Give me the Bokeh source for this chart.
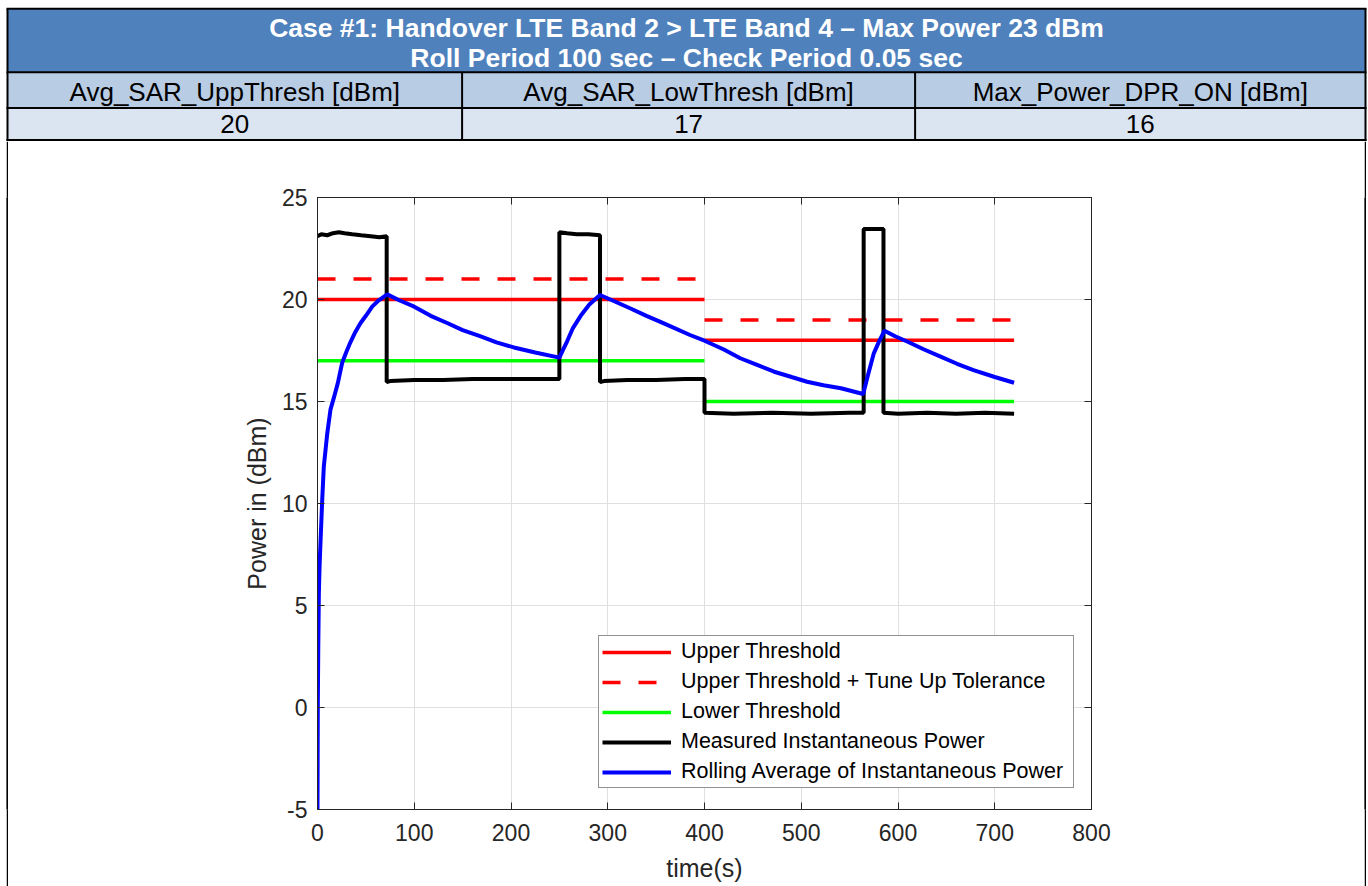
from bokeh.plotting import figure
from bokeh.models import (Range1d, FixedTicker, LinearAxis, Legend, LegendItem,
                          ColumnDataSource, Spacer)
from bokeh.layouts import column, row
from bokeh.embed import file_html
from bokeh.resources import INLINE
from bokeh.core.properties import value

# ---------------- table data ----------------
title_lines = ["Case #1: Handover LTE Band 2 > LTE Band 4 \u2013 Max Power 23 dBm",
               "Roll Period 100 sec \u2013 Check Period 0.05 sec"]
param_names = ["Avg_SAR_UppThresh [dBm]", "Avg_SAR_LowThresh [dBm]", "Max_Power_DPR_ON [dBm]"]
param_values = ["20", "17", "16"]

# ---------------- chart data ----------------
seg_start = [0, 400]
seg_end = [400, 720]
upper_thresh = [20, 18]
upper_tol = [21, 19]
lower_thresh = [17, 15]

meas_t = [0, 4, 10, 16, 22, 28, 36, 45, 55, 64, 71.5, 71.5, 75, 100, 130, 160, 190, 220, 250,
          250, 258, 268, 280, 292, 292, 296, 320, 350, 380, 400,
          400, 430, 470, 510, 550, 564.5, 564.5, 575, 585, 585, 600, 630, 660, 690, 720]
meas_v = [23.1, 23.2, 23.15, 23.25, 23.3, 23.25, 23.2, 23.15, 23.1, 23.05, 23.1, 15.95, 16.0, 16.05, 16.05, 16.1, 16.1, 16.1, 16.1,
          23.3, 23.25, 23.2, 23.2, 23.15, 15.95, 16.0, 16.05, 16.05, 16.1, 16.1,
          14.45, 14.4, 14.45, 14.4, 14.45, 14.45, 23.45, 23.45, 23.45, 14.45, 14.4, 14.45, 14.4, 14.45, 14.4]

avg_t = [0, 0.3, 0.8, 1.4, 2.2, 3.1, 4.9, 6.5, 10, 13.4, 17, 21, 25.5, 30, 34, 39, 44.5, 50, 56.5, 63, 72,
         85, 100, 117, 134, 150, 168, 185, 203, 225, 250,
         254, 258, 264, 272, 281, 292,
         305, 323, 340, 358, 385, 400, 420, 437, 455, 472, 490, 506, 523, 541, 564,
         569, 575, 580, 586,
         597, 610, 627, 644, 661, 678, 700, 720]
avg_v = [-5, 0, 3, 5.6, 7, 8.1, 10.2, 11.8, 13.4, 14.6, 15.2, 15.9, 16.9, 17.45, 17.9, 18.4, 18.85, 19.2, 19.65, 19.95, 20.25,
         19.95, 19.65, 19.2, 18.85, 18.5, 18.2, 17.9, 17.65, 17.4, 17.15,
         17.55, 17.95, 18.6, 19.2, 19.75, 20.22,
         19.95, 19.57, 19.2, 18.83, 18.26, 17.98, 17.55, 17.12, 16.78, 16.46, 16.2, 15.97, 15.8, 15.65, 15.37,
         16.3, 17.36, 17.9, 18.47,
         18.2, 17.93, 17.55, 17.2, 16.85, 16.54, 16.2, 15.92]

x_ticks = [0, 100, 200, 300, 400, 500, 600, 700, 800]
y_ticks = [-5, 0, 5, 10, 15, 20, 25]

legend_labels = ["Upper Threshold", "Upper Threshold + Tune Up Tolerance", "Lower Threshold",
                 "Measured Instantaneous Power", "Rolling Average of Instantaneous Power"]

FONT = "Liberation Sans"
AX = "#262626"
PAGE_W = 1368

# ---------------- table figure ----------------
TH = 141
t = figure(width=PAGE_W, height=TH, x_range=Range1d(0, PAGE_W), y_range=Range1d(TH, 0),
           output_backend="svg", toolbar_location=None, min_border=0,
           background_fill_color="white", border_fill_color="white")
t.axis.visible = False
t.grid.visible = False
t.outline_line_color = None

L, R = 7, 1365
h_lines = [8.3, 71.8, 107.5, 139.5]
v_div = [461.6, 914.6]
t.quad(left=[L] * 3, right=[R] * 3, top=h_lines[:3], bottom=h_lines[1:],
       fill_color=["#4f81bd", "#b8cce4", "#dbe5f1"], line_color=None)
t.multi_line(xs=[[L - 1, R + 1]] * 4 + [[L, L], [R, R], [v_div[0]] * 2, [v_div[1]] * 2],
             ys=[[y, y] for y in h_lines] + [[h_lines[0], TH], [h_lines[0], TH],
                                             [h_lines[1], h_lines[3]], [h_lines[1], h_lines[3]]],
             line_color="black", line_width=2)
col_edges = [L, v_div[0], v_div[1], R]
col_centers = [(col_edges[i] + col_edges[i + 1]) / 2 for i in range(3)]
t.text(x=[686, 686], y=[27, 57.5], text=title_lines, text_font=value(FONT), text_font_size="26.5px",
       text_font_style="bold", text_color="white", text_align="center", text_baseline="middle")
t.text(x=col_centers, y=[91.5] * 3, text=param_names, text_font=value(FONT), text_font_size="26px",
       text_color="black", text_align="center", text_baseline="middle")
t.text(x=col_centers, y=[123.5] * 3, text=param_values, text_font=value(FONT), text_font_size="26px",
       text_color="black", text_align="center", text_baseline="middle")

# ---------------- chart figure ----------------
CH = 886 - TH
CW = 1356
p = figure(width=CW, height=CH, x_range=Range1d(0, 800), y_range=Range1d(-5, 25),
           output_backend="svg", toolbar_location=None,
           min_border_left=309, min_border_right=CW - 309 - 774, min_border_top=56,
           min_border_bottom=CH - 56 - 612,
           background_fill_color="white", border_fill_color="white")
p.outline_line_color = AX
p.outline_line_width = 1

for g, tk in ((p.xgrid, x_ticks), (p.ygrid, y_ticks)):
    g.ticker = FixedTicker(ticks=tk)
    g.grid_line_color = "#dfdfdf"
    g.grid_line_width = 1

def style_axis(ax, ticks, show_labels):
    ax.ticker = FixedTicker(ticks=ticks)
    ax.axis_line_color = AX
    ax.major_tick_line_color = AX
    ax.major_tick_in = 7
    ax.major_tick_out = 0
    ax.minor_tick_in = 0
    ax.minor_tick_out = 0
    ax.major_label_text_font = FONT
    ax.major_label_text_color = AX
    if show_labels:
        ax.major_label_text_font_size = "23px"
    else:
        ax.major_label_overrides = {tk: "" for tk in ticks}
        ax.major_label_text_font_size = "1px"
        ax.major_label_standoff = 0

style_axis(p.xaxis[0], x_ticks, True)
style_axis(p.yaxis[0], y_ticks, True)
p.yaxis.major_label_overrides = {-5: "-5"}
p.xaxis.major_label_standoff = 14
p.yaxis.major_label_standoff = 10
p.xaxis.axis_label = "time(s)"
p.yaxis.axis_label = "Power in (dBm)"
for ax in (p.xaxis[0], p.yaxis[0]):
    ax.axis_label_text_font = FONT
    ax.axis_label_text_font_size = "25px"
    ax.axis_label_text_font_style = "normal"
    ax.axis_label_text_color = AX
p.xaxis.axis_label_standoff = 10
p.yaxis.axis_label_standoff = 8

top_ax = LinearAxis()
style_axis(top_ax, x_ticks, False)
p.add_layout(top_ax, "above")
right_ax = LinearAxis()
style_axis(right_ax, y_ticks, False)
p.add_layout(right_ax, "right")

src_thr = ColumnDataSource(dict(x0=seg_start, x1=seg_end, up=upper_thresh, tol=upper_tol, low=lower_thresh))
r_up = p.segment(x0="x0", y0="up", x1="x1", y1="up", source=src_thr, line_color="#ff0000", line_width=3.5)
r_tol = p.segment(x0="x0", y0="tol", x1="x1", y1="tol", source=src_thr, line_color="#ff0000",
                  line_width=3.5, line_dash="18 18")
r_low = p.segment(x0="x0", y0="low", x1="x1", y1="low", source=src_thr, line_color="#00ff00", line_width=3.5)
r_meas = p.line(meas_t, meas_v, line_color="black", line_width=4)
r_avg = p.line(avg_t, avg_v, line_color="#0000ff", line_width=4)

legend = Legend(items=[LegendItem(label=lab, renderers=[r]) for lab, r in
                       zip(legend_labels, [r_up, r_tol, r_low, r_meas, r_avg])],
                location=(281, 21))
legend.label_text_font = FONT
legend.label_text_font_size = "21.5px"
legend.label_text_color = "black"
legend.glyph_width = 69
legend.glyph_height = 20
legend.label_height = 20
legend.label_width = 389
legend.label_standoff = 10
legend.spacing = 5
legend.padding = 3
legend.margin = 0
legend.border_line_color = AX
legend.border_line_width = 1
legend.background_fill_color = "white"
legend.background_fill_alpha = 1
p.add_layout(legend)

def border_fig():
    f = figure(width=2, height=CH, output_backend="svg", toolbar_location=None, min_border=0,
               background_fill_color="black", border_fill_color="black",
               x_range=Range1d(0, 1), y_range=Range1d(0, 1))
    f.quad(left=[0], right=[1], bottom=[0], top=[1], fill_color="black", line_color=None)
    f.axis.visible = False
    f.grid.visible = False
    f.outline_line_color = None
    return f

layout = column(t, row(Spacer(width=6, height=CH), border_fig(), p, border_fig(),
                       Spacer(width=PAGE_W - 6 - 2 - CW - 2, height=CH)))
open("out.html", "w").write(file_html(layout, INLINE))
